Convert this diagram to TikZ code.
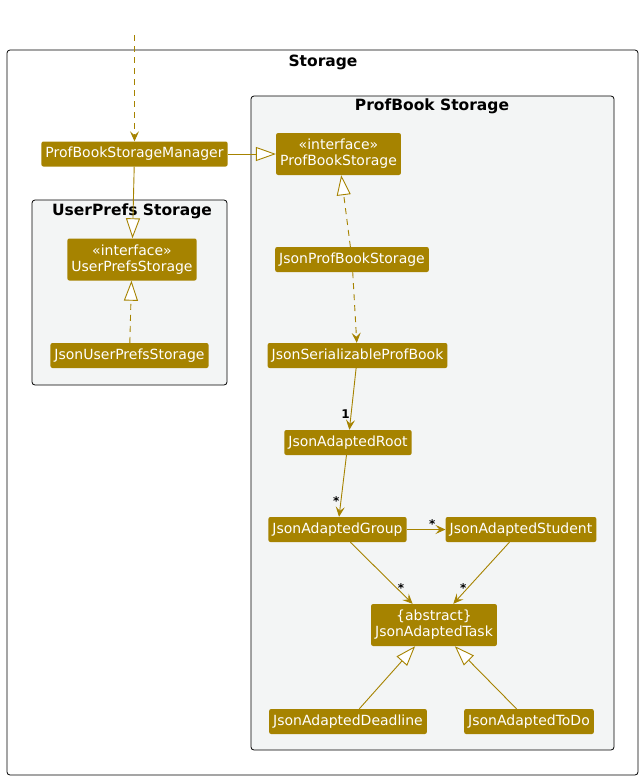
\documentclass[tikz,border=0pt]{standalone}
\usepackage{fontspec}
\setmainfont{DejaVu Sans}
\usetikzlibrary{arrows.meta}

\definecolor{umlgold}{HTML}{A68300}
\definecolor{pkgfill}{HTML}{F3F5F5}

\begin{document}
\begin{tikzpicture}[x=1pt,y=-1pt,
    cls/.style={fill=umlgold,text=white,rounded corners=2pt,inner xsep=4pt,inner ysep=0pt,
      minimum height=25pt,align=center,font=\fontsize{14}{16}\selectfont},
    pkg/.style={draw=black,fill=pkgfill,rounded corners=3pt,line width=0.8pt},
    title/.style={font=\fontsize{15.5}{17}\selectfont\bfseries},
    mult/.style={font=\fontsize{12}{13}\selectfont\bfseries,inner sep=1pt},
    assoc/.style={draw=umlgold,line width=0.9pt,-{Stealth[length=10pt,width=9pt,inset=4pt]}},
    inherit/.style={draw=umlgold,line width=0.9pt,-{Triangle[open,length=20pt,width=14pt,fill=white]}},
    dotted line/.style={dash pattern=on 6pt off 5pt}]
      \useasboundingbox (0,0) rectangle (643,780);

      % packages
      \draw[rounded corners=3pt,line width=0.8pt] (7,50) rectangle (638,775);
      \node[title] (storage) at (323,62) {Storage};
      \draw[pkg] (251,96) rectangle (614,750);
      \node[title] (pbstore) at (432,106) {ProfBook Storage};
      \draw[pkg] (32,200) rectangle (227,385);
      \node[title] (upstore) at (132,211) {UserPrefs Storage};

      % classes
      \node[cls] (mgr) at (134.5,154) {ProfBookStorageManager};
      \node[cls,minimum height=42pt] (pbs) at (338.5,154) {«interface»\\ProfBookStorage};
      \node[cls,minimum height=42pt] (ups) at (132,259.5) {«interface»\\UserPrefsStorage};
      \node[cls] (jups) at (129.5,355.5) {JsonUserPrefsStorage};
      \node[cls] (jpbs) at (352,259.5) {JsonProfBookStorage};
      \node[cls] (jsp) at (357.5,355.5) {JsonSerializableProfBook};
      \node[cls] (root) at (348,442.5) {JsonAdaptedRoot};
      \node[cls] (grp) at (337.5,529.5) {JsonAdaptedGroup};
      \node[cls] (stu) at (521,529.5) {JsonAdaptedStudent};
      \node[cls,minimum height=42pt] (task) at (434,625) {\{abstract\}\\JsonAdaptedTask};
      \node[cls] (dl) at (348,721.5) {JsonAdaptedDeadline};
      \node[cls] (todo) at (529,721.5) {JsonAdaptedToDo};
      \coordinate (top) at (134.5,35);

      % connectors
      \draw[assoc,dotted line] (top) -- (mgr);
      \draw[inherit] (mgr) -- (pbs);
      \draw[inherit] (mgr) -- (ups);
      \draw[inherit,dotted line] (jups) -- (ups);
      \draw[inherit,dotted line] (jpbs) -- (pbs);
      \draw[assoc,dotted line] (jpbs) -- (jsp);
      \draw[assoc] (jsp) -- node[mult,pos=0.75,left] {1} (root);
      \draw[assoc] (root) -- node[mult,pos=0.74,left] {*} (grp);
      \draw[assoc] (grp) -- node[mult,pos=0.66,above] {*} (stu);
      \draw[assoc] (grp) -- node[mult,pos=0.74,right] {*} (task);
      \draw[assoc] (stu) -- node[mult,pos=0.74,left] {*} (task);
      \draw[inherit] (dl) -- (task);
      \draw[inherit] (todo) -- (task);
    \end{tikzpicture}
\end{document}
